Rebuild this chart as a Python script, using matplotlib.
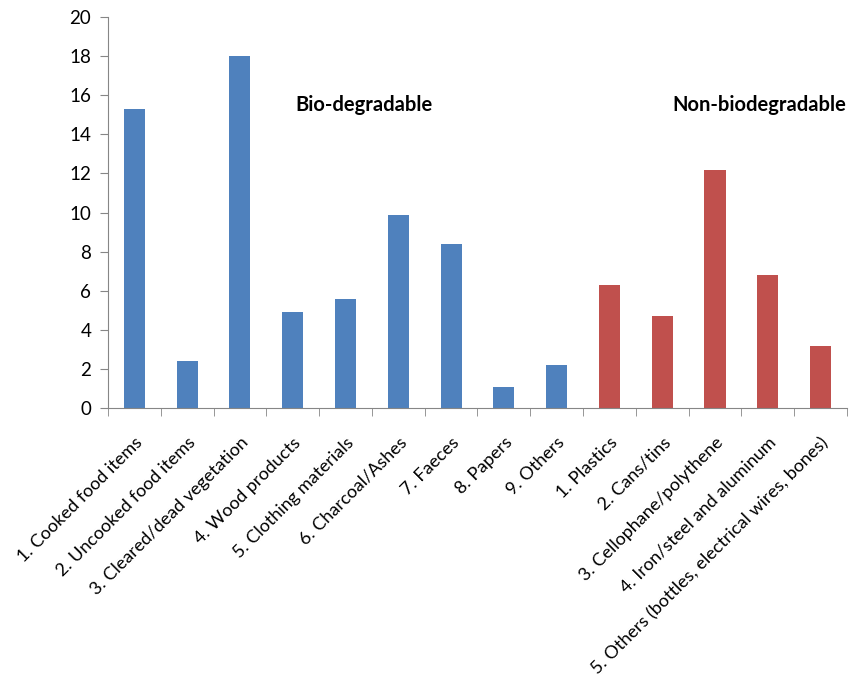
import numpy as np
import matplotlib
matplotlib.use('Agg')
import matplotlib.pyplot as plt

bio_labels = ['1. Cooked food items', '2. Uncooked food items', '3. Cleared/dead vegetation',
              '4. Wood products', '5. Clothing materials', '6. Charcoal/Ashes',
              '7. Faeces', '8. Papers', '9. Others']
bio_values = [15.3, 2.4, 18.0, 4.9, 5.6, 9.9, 8.4, 1.1, 2.2]

nonbio_labels = ['1. Plastics', '2. Cans/tins', '3. Cellophane/polythene',
                 '4. Iron/steel and aluminum', '5. Others (bottles, electrical wires, bones)']
nonbio_values = [6.3, 4.7, 12.2, 6.8, 3.2]

plt.rcParams['font.family'] = ['Lato', 'DejaVu Sans']

labels = bio_labels + nonbio_labels
x_bio = np.arange(len(bio_labels))
x_non = np.arange(len(nonbio_labels)) + len(bio_labels)

fig = plt.figure(figsize=(8.61, 6.78), dpi=100)
ax = fig.add_axes([0.1254, 0.398, 0.9837 - 0.1254, 0.975 - 0.398])

ax.bar(x_bio, bio_values, width=0.4, color='#4F81BD')
ax.bar(x_non, nonbio_values, width=0.4, color='#C0504D')

ax.set_ylim(0, 20)
ax.set_yticks(np.arange(0, 21, 2))
ax.set_xlim(-0.5, 13.13)

ax.set_xticks(np.arange(len(labels)))
ax.set_xticklabels(labels, rotation=45, ha='right', va='top', rotation_mode='anchor', fontsize=13)
ax.tick_params(axis='x', which='major', length=0, pad=19)
ax.set_xticks(np.arange(len(labels) + 1) - 0.5, minor=True)
ax.tick_params(axis='x', which='minor', length=6, color='#868686', direction='out')
ax.tick_params(axis='y', length=6, color='#868686', labelsize=13.5, pad=6)

for side in ['top', 'right']:
    ax.spines[side].set_visible(False)
for side in ['left', 'bottom']:
    ax.spines[side].set_color('#868686')

ax.text(3.05, 15.5, 'Bio-degradable', fontsize=14.5, fontweight='bold', ha='left', va='center')
ax.text(10.2, 15.5, 'Non-biodegradable', fontsize=14.5, fontweight='bold', ha='left', va='center',
        clip_on=False)

fig.savefig('out.png', dpi=100)
